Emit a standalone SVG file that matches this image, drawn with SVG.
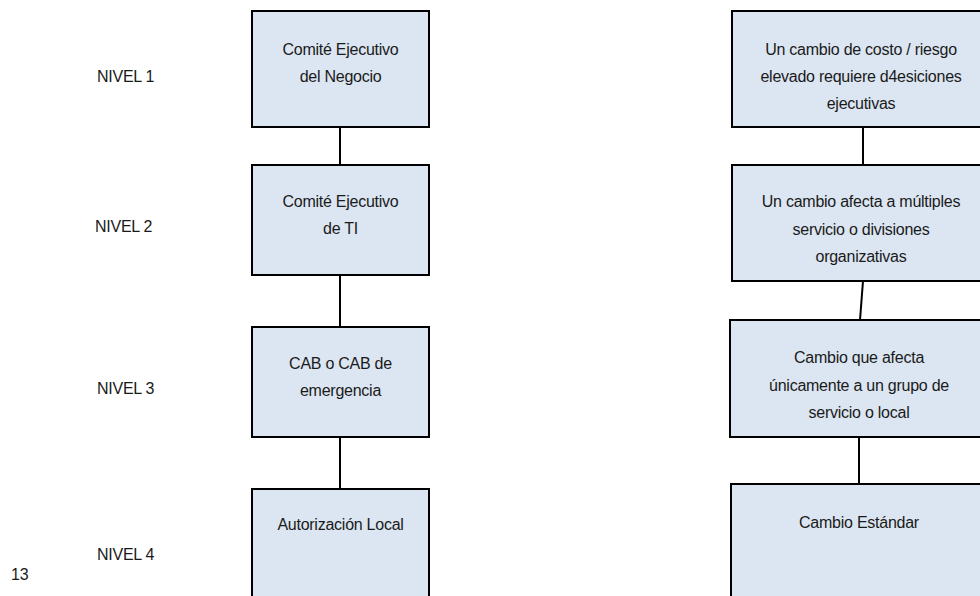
<svg xmlns="http://www.w3.org/2000/svg" width="980" height="596" viewBox="0 0 980 596">
  <style>
    .box { fill: #dce6f2; stroke: #000; stroke-width: 2; }
    .lbl { font-family: "Liberation Sans", Arial, sans-serif; font-size: 16px; letter-spacing: -0.25px; fill: #1a1a1a; text-anchor: middle; }
    .lvl { font-family: "Liberation Sans", Arial, sans-serif; font-size: 16px; letter-spacing: -0.25px; fill: #1a1a1a; }
    .conn line { stroke: #000; stroke-width: 2; }
  </style>
  <rect x="0" y="0" width="980" height="596" fill="#fff"/>

  <!-- level labels -->
  <g id="niveles">
    <text class="lvl" x="97" y="82">NIVEL 1</text>
    <text class="lvl" x="95" y="232">NIVEL 2</text>
    <text class="lvl" x="97" y="394">NIVEL 3</text>
    <text class="lvl" x="97" y="560">NIVEL 4</text>
    <text class="lvl" x="11" y="580">13</text>
  </g>

  <!-- connectors -->
  <g id="connectors" class="conn">
    <line x1="340" y1="127" x2="340" y2="165"/>
    <line x1="340" y1="275" x2="340" y2="327"/>
    <line x1="340" y1="437" x2="340" y2="489"/>
    <line x1="863" y1="127" x2="863" y2="165"/>
    <line x1="863" y1="281" x2="860" y2="320"/>
    <line x1="859" y1="437" x2="859" y2="484"/>
  </g>

  <!-- left column: authority -->
  <g id="comite-negocio">
    <rect class="box" x="252" y="11" width="177" height="116"/>
    <text class="lbl" x="340.5" y="55">Comité Ejecutivo</text>
    <text class="lbl" x="340.5" y="82">del Negocio</text>
  </g>
  <g id="comite-ti">
    <rect class="box" x="252" y="165" width="177" height="110"/>
    <text class="lbl" x="340.5" y="207">Comité Ejecutivo</text>
    <text class="lbl" x="340.5" y="234">de TI</text>
  </g>
  <g id="cab">
    <rect class="box" x="252" y="327" width="177" height="110"/>
    <text class="lbl" x="340.5" y="369">CAB o CAB de</text>
    <text class="lbl" x="340.5" y="396">emergencia</text>
  </g>
  <g id="autorizacion-local">
    <rect class="box" x="252" y="489" width="177" height="120"/>
    <text class="lbl" x="340.5" y="530">Autorización Local</text>
  </g>

  <!-- right column: change type -->
  <g id="cambio-alto">
    <rect class="box" x="732" y="11" width="260" height="116"/>
    <text class="lbl" x="861" y="55">Un cambio de costo / riesgo</text>
    <text class="lbl" x="861" y="82">elevado requiere d4esiciones</text>
    <text class="lbl" x="861" y="109">ejecutivas</text>
  </g>
  <g id="cambio-multiple">
    <rect class="box" x="732" y="165" width="260" height="116"/>
    <text class="lbl" x="861" y="207">Un cambio afecta a múltiples</text>
    <text class="lbl" x="861" y="235">servicio o divisiones</text>
    <text class="lbl" x="861" y="262">organizativas</text>
  </g>
  <g id="cambio-local">
    <rect class="box" x="730" y="320" width="260" height="117"/>
    <text class="lbl" x="859" y="363">Cambio que afecta</text>
    <text class="lbl" x="859" y="391">únicamente a un grupo de</text>
    <text class="lbl" x="859" y="418">servicio o local</text>
  </g>
  <g id="cambio-estandar">
    <rect class="box" x="731" y="484" width="260" height="125"/>
    <text class="lbl" x="859" y="528">Cambio Estándar</text>
  </g>
</svg>
